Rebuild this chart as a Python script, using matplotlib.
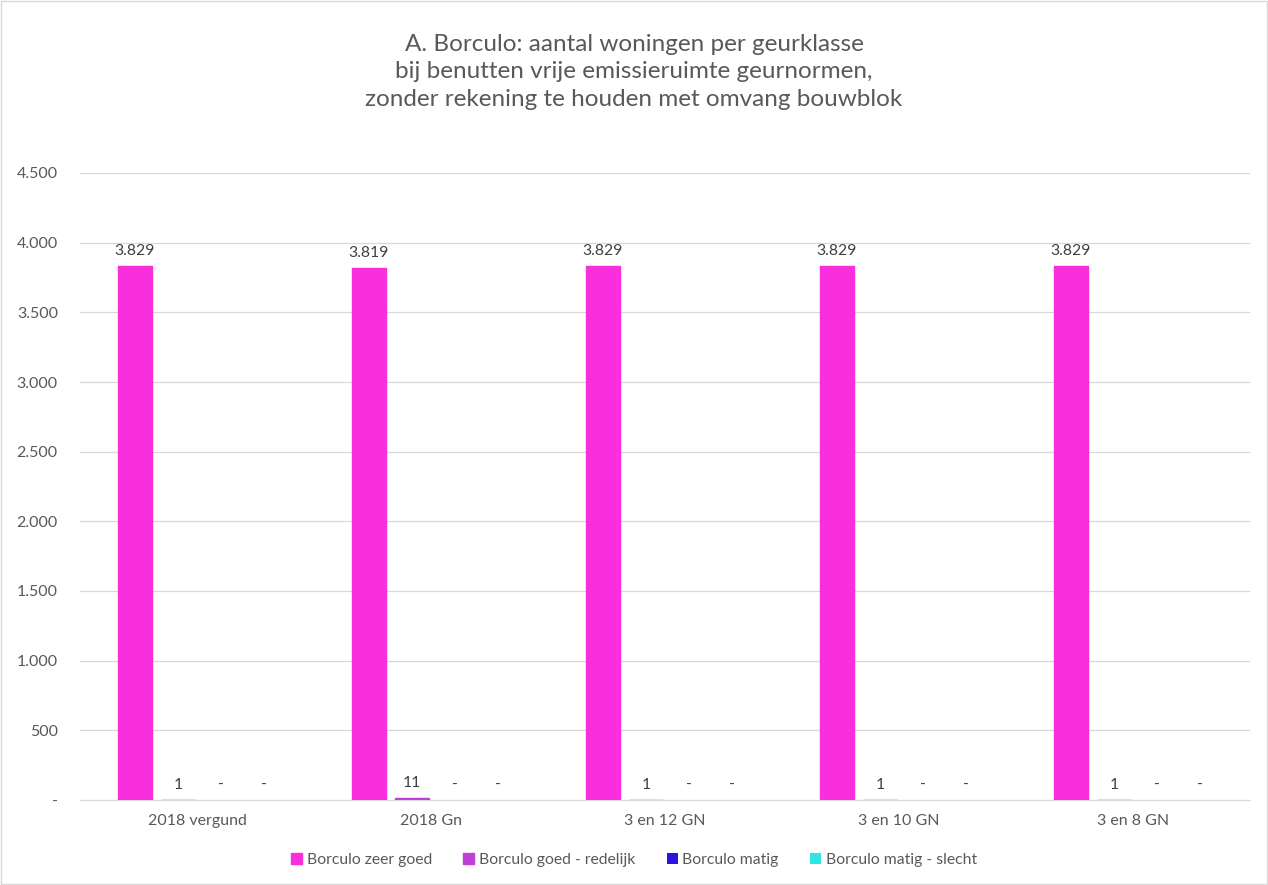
import matplotlib
matplotlib.use("Agg")
import matplotlib.pyplot as plt
import numpy as np
from matplotlib.ticker import FuncFormatter, MultipleLocator

categories = ["2018 vergund", "2018 Gn", "3 en 12 GN", "3 en 10 GN", "3 en 8 GN"]
series_names = ["Borculo zeer goed", "Borculo goed - redelijk", "Borculo matig", "Borculo matig - slecht"]
zeer_goed = [3829, 3819, 3829, 3829, 3829]
goed_redelijk = [1, 11, 1, 1, 1]
matig = [0, 0, 0, 0, 0]
matig_slecht = [0, 0, 0, 0, 0]
colors = ["#F92EDD", "#C03FD9", "#2A14DE", "#2EE5E8"]

plt.rcParams['font.family'] = ['Lato', 'DejaVu Sans']

def fmt(v):
    if v == 0:
        return "-"
    return f"{int(v):,}".replace(",", ".")

fig = plt.figure(figsize=(12.68, 8.85), dpi=100)
ax = fig.add_axes([80/1268, 1-800/885, 1170/1268, (800-173)/885])

x = np.arange(len(categories))
slot = 0.184
width = 0.145
all_series = [zeer_goed, goed_redelijk, matig, matig_slecht]
for i, (vals, name, c) in enumerate(zip(all_series, series_names, colors)):
    pos = x + (i - 1.5) * slot + 0.01
    ax.bar(pos, vals, width=width, color=c, label=name, zorder=3,
           edgecolor=[c if v > 0 else 'none' for v in vals], linewidth=1.0)
    for p, v in zip(pos, vals):
        ax.text(p, v + 60, fmt(v), ha='center', va='bottom', fontsize=11.3, color='#404040')

ax.set_xlim(-0.5, len(categories) - 0.5)
ax.set_ylim(0, 4500)
ax.yaxis.set_major_locator(MultipleLocator(500))
ax.yaxis.set_major_formatter(FuncFormatter(lambda v, p: fmt(v)))
ax.set_xticks(x)
ax.set_xticklabels(categories)
ax.tick_params(axis='both', length=0, labelsize=11.5, labelcolor='#595959')
ax.tick_params(axis='x', pad=10)
ax.tick_params(axis='y', pad=16)
ax.grid(axis='y', color='#D9D9D9', linewidth=0.9, zorder=0)
for s in ['top', 'right', 'left']:
    ax.spines[s].set_visible(False)
ax.spines['bottom'].set_color('#D9D9D9')

fig.text(0.5, 1-72/885, "A. Borculo: aantal woningen per geurklasse\nbij benutten vrije emissieruimte geurnormen,\nzonder rekening te houden met omvang bouwblok",
         ha='center', va='center', fontsize=17.5, color='#595959', linespacing=1.4)

fig.legend(loc='center', bbox_to_anchor=(0.5, 1-860/885), ncol=4, frameon=False,
           fontsize=11.3, labelcolor='#595959', handlelength=0.7, handleheight=0.7,
           handletextpad=0.3, columnspacing=2.0)

border = plt.Rectangle((0.001, 0.001), 0.998, 0.998, transform=fig.transFigure,
                       fill=False, edgecolor='#D9D9D9', linewidth=1)
fig.patches.append(border)

fig.savefig("out.png", dpi=100)
